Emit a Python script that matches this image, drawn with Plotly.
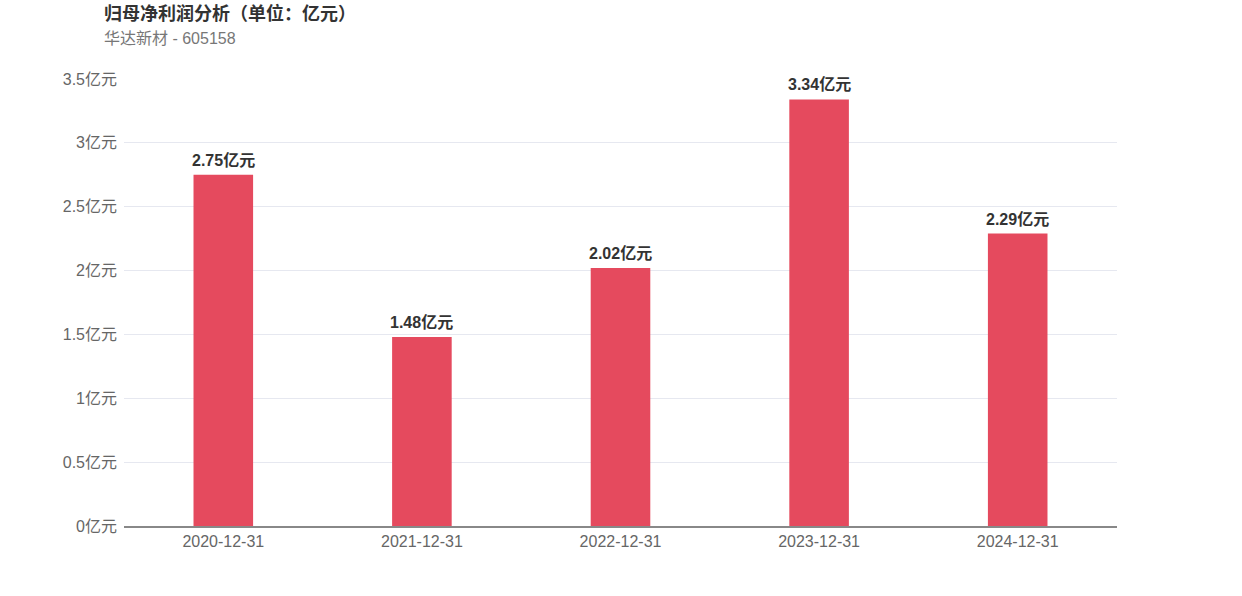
import plotly.graph_objects as go

categories = ["2020-12-31", "2021-12-31", "2022-12-31", "2023-12-31", "2024-12-31"]
values = [2.75, 1.48, 2.02, 3.34, 2.29]
tick_vals = [0, 0.5, 1, 1.5, 2, 2.5, 3, 3.5]
tick_text = ["0亿元", "0.5亿元", "1亿元", "1.5亿元", "2亿元", "2.5亿元", "3亿元", "3.5亿元"]
labels = [f"{v:.2f}亿元" for v in values]

FONT = "Liberation Sans, Noto Sans CJK SC, sans-serif"

fig = go.Figure(go.Bar(
    x=categories, y=values, width=0.3,
    marker=dict(color="#e54a5e", line=dict(width=0)),
    hoverinfo="x+y",
))

for c, v, t in zip(categories, values, labels):
    fig.add_annotation(x=c, y=v, text=f"<b>{t}</b>", xref="x", yref="y",
                       yanchor="bottom", yshift=4, showarrow=False,
                       font=dict(family=FONT, size=16, color="#333333"))

fig.update_layout(
    width=1242, height=596,
    margin=dict(l=124, r=125, t=79, b=70),
    paper_bgcolor="white", plot_bgcolor="white",
    showlegend=False,
    font=dict(family=FONT),
)
fig.add_annotation(text="<b>归母净利润分析（单位：亿元）</b>", xref="paper", yref="paper",
                   x=-22/993, y=1 + (79-13)/447, xanchor="left", yanchor="middle",
                   showarrow=False, font=dict(family=FONT, size=18, color="#333333"))
fig.add_annotation(text="华达新材 - 605158", xref="paper", yref="paper",
                   x=-22/993, y=1 + (79-39)/447, xanchor="left", yanchor="middle",
                   showarrow=False, font=dict(family=FONT, size=16, color="#777777"))

fig.update_xaxes(type="category", showline=True, linecolor="#888888", linewidth=1.5, ticks="",
                 tickfont=dict(family=FONT, size=16, color="#666666"), showgrid=False)
fig.update_yaxes(range=[0, 3.5], tickvals=tick_vals, ticktext=tick_text,
                 gridcolor="#e6e8f0", gridwidth=1, zeroline=False,
                 tickfont=dict(family=FONT, size=16, color="#666666"), ticks="",
                 ticklabelstandoff=6)

fig.write_html("out.html", config={"displayModeBar": False},
               post_script="document.body.style.margin='0';")
